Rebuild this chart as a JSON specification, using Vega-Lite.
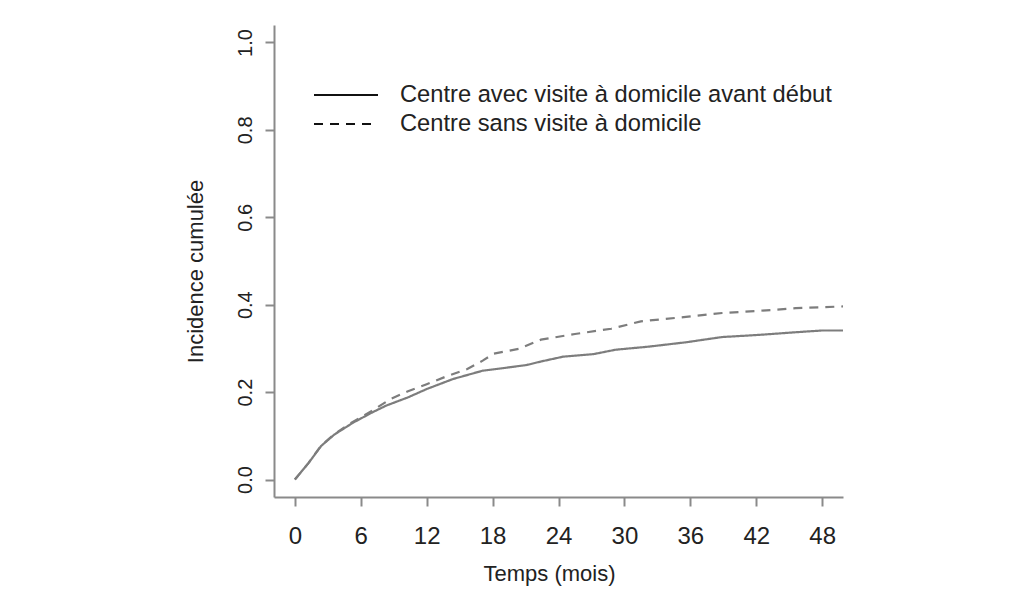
{
  "$schema": "https://vega.github.io/schema/vega-lite/v6.json",
  "width": 569,
  "height": 472,
  "autosize": {"type": "none"},
  "padding": {"left": 274, "top": 25, "right": 181, "bottom": 98},
  "background": "white",
  "config": {
    "font": "Liberation Sans",
    "view": {"stroke": null},
    "axis": {
      "grid": false,
      "domainColor": "#8a8a8a",
      "domainWidth": 2,
      "tickColor": "#8a8a8a",
      "tickWidth": 2,
      "tickSize": 9,
      "labelFont": "Liberation Sans",
      "labelFontSize": 20,
      "labelColor": "#222222",
      "titleFont": "Liberation Sans",
      "titleFontSize": 22,
      "titleFontWeight": "normal",
      "titleColor": "#222222"
    }
  },
  "data": {
    "values": [
      {"t": 0, "v": 0, "g": "Centre avec visite à domicile avant début"},
      {"t": 1.25, "v": 0.038, "g": "Centre avec visite à domicile avant début"},
      {"t": 2.4, "v": 0.077, "g": "Centre avec visite à domicile avant début"},
      {"t": 3.6, "v": 0.103, "g": "Centre avec visite à domicile avant début"},
      {"t": 5.3, "v": 0.130, "g": "Centre avec visite à domicile avant début"},
      {"t": 7.0, "v": 0.153, "g": "Centre avec visite à domicile avant début"},
      {"t": 8.3, "v": 0.169, "g": "Centre avec visite à domicile avant début"},
      {"t": 10.3, "v": 0.188, "g": "Centre avec visite à domicile avant début"},
      {"t": 12.0, "v": 0.207, "g": "Centre avec visite à domicile avant début"},
      {"t": 14.4, "v": 0.230, "g": "Centre avec visite à domicile avant début"},
      {"t": 17.1, "v": 0.249, "g": "Centre avec visite à domicile avant début"},
      {"t": 18.7, "v": 0.254, "g": "Centre avec visite à domicile avant début"},
      {"t": 21.1, "v": 0.262, "g": "Centre avec visite à domicile avant début"},
      {"t": 22.4, "v": 0.270, "g": "Centre avec visite à domicile avant début"},
      {"t": 24.4, "v": 0.281, "g": "Centre avec visite à domicile avant début"},
      {"t": 27.2, "v": 0.287, "g": "Centre avec visite à domicile avant début"},
      {"t": 29.2, "v": 0.297, "g": "Centre avec visite à domicile avant début"},
      {"t": 32.2, "v": 0.304, "g": "Centre avec visite à domicile avant début"},
      {"t": 35.6, "v": 0.314, "g": "Centre avec visite à domicile avant début"},
      {"t": 38.9, "v": 0.326, "g": "Centre avec visite à domicile avant début"},
      {"t": 42.3, "v": 0.331, "g": "Centre avec visite à domicile avant début"},
      {"t": 45.6, "v": 0.337, "g": "Centre avec visite à domicile avant début"},
      {"t": 48.0, "v": 0.341, "g": "Centre avec visite à domicile avant début"},
      {"t": 49.9, "v": 0.341, "g": "Centre avec visite à domicile avant début"},
      {"t": 0, "v": 0, "g": "Centre sans visite à domicile"},
      {"t": 1.25, "v": 0.038, "g": "Centre sans visite à domicile"},
      {"t": 2.4, "v": 0.078, "g": "Centre sans visite à domicile"},
      {"t": 3.6, "v": 0.104, "g": "Centre sans visite à domicile"},
      {"t": 5.0, "v": 0.128, "g": "Centre sans visite à domicile"},
      {"t": 6.0, "v": 0.142, "g": "Centre sans visite à domicile"},
      {"t": 7.0, "v": 0.157, "g": "Centre sans visite à domicile"},
      {"t": 8.7, "v": 0.184, "g": "Centre sans visite à domicile"},
      {"t": 10.3, "v": 0.202, "g": "Centre sans visite à domicile"},
      {"t": 12.0, "v": 0.218, "g": "Centre sans visite à domicile"},
      {"t": 13.7, "v": 0.235, "g": "Centre sans visite à domicile"},
      {"t": 15.7, "v": 0.253, "g": "Centre sans visite à domicile"},
      {"t": 17.1, "v": 0.272, "g": "Centre sans visite à domicile"},
      {"t": 18.1, "v": 0.288, "g": "Centre sans visite à domicile"},
      {"t": 20.4, "v": 0.299, "g": "Centre sans visite à domicile"},
      {"t": 22.4, "v": 0.320, "g": "Centre sans visite à domicile"},
      {"t": 25.5, "v": 0.333, "g": "Centre sans visite à domicile"},
      {"t": 28.8, "v": 0.345, "g": "Centre sans visite à domicile"},
      {"t": 31.5, "v": 0.362, "g": "Centre sans visite à domicile"},
      {"t": 35.6, "v": 0.372, "g": "Centre sans visite à domicile"},
      {"t": 38.9, "v": 0.381, "g": "Centre sans visite à domicile"},
      {"t": 42.3, "v": 0.386, "g": "Centre sans visite à domicile"},
      {"t": 45.6, "v": 0.392, "g": "Centre sans visite à domicile"},
      {"t": 49.9, "v": 0.396, "g": "Centre sans visite à domicile"}
    ]
  },
  "mark": {"type": "line", "color": "#7d7d7d", "strokeWidth": 2.2, "clip": true},
  "encoding": {
    "x": {
      "field": "t",
      "type": "quantitative",
      "scale": {"domain": [-1.9, 49.9], "nice": false, "zero": false},
      "axis": {
        "values": [0, 6, 12, 18, 24, 30, 36, 42, 48],
        "title": "Temps (mois)",
        "labelFontSize": 24,
        "labelPadding": 18,
        "titlePadding": 15,
        "titleX": 275
      }
    },
    "y": {
      "field": "v",
      "type": "quantitative",
      "scale": {"domain": [-0.04, 1.04], "nice": false, "zero": false},
      "axis": {
        "values": [0, 0.2, 0.4, 0.6, 0.8, 1.0],
        "format": ".1f",
        "labelAngle": -90,
        "labelAlign": "center",
        "labelBaseline": "bottom",
        "labelPadding": 10,
        "title": "Incidence cumulée",
        "titlePadding": 28,
        "titleY": 246
      }
    },
    "strokeDash": {
      "field": "g",
      "type": "nominal",
      "scale": {
        "domain": ["Centre avec visite à domicile avant début", "Centre sans visite à domicile"],
        "range": [[1, 0], [9, 7]]
      },
      "legend": {
        "title": null,
        "orient": "none",
        "legendX": 55,
        "legendY": 53,
        "direction": "vertical",
        "symbolType": "M-2,0H2",
        "symbolSize": 1024,
        "symbolFillColor": "transparent",
        "symbolStrokeColor": "#111111",
        "symbolStrokeWidth": 2,
        "labelFont": "Liberation Sans",
        "labelFontSize": 23.7,
        "labelColor": "#222222",
        "labelOffset": 37,
        "labelLimit": 0,
        "rowPadding": -3
      }
    }
  }
}
